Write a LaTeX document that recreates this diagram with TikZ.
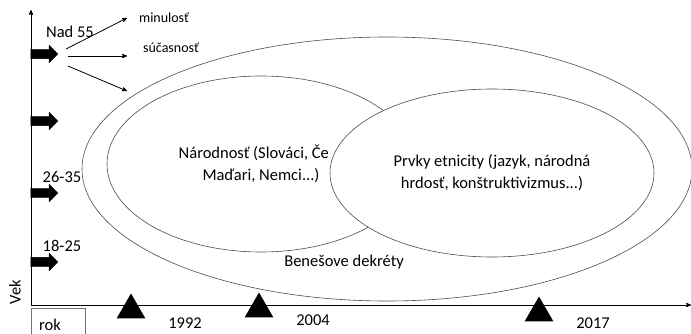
\documentclass[tikz,border=0pt]{standalone}
\usepackage{fontspec}
\setmainfont{Carlito}
\usepackage{tikz}
\usetikzlibrary{arrows,shapes,shapes.arrows,positioning}

\begin{document}
\begin{tikzpicture}[x=1pt,y=-1pt,>=stealth',every node/.style={font=\fontsize{16.5}{22}\selectfont}]
\tikzstyle{vekarrow}=[single arrow, fill=black, draw=black, minimum height=27pt, minimum width=17pt,
  single arrow head extend=4pt, inner xsep=0pt, inner ysep=4.5pt]
\tikzstyle{rokmark}=[regular polygon, regular polygon sides=3, fill=black, minimum size=33pt, inner sep=0pt]
\tikzstyle{kruh}=[ellipse, draw=black!70, line width=0.6pt, inner sep=0pt, align=center]
\tikzstyle{maly}=[font=\fontsize{14}{16}\selectfont]
\useasboundingbox (0,0) rectangle (691,334);

% osi
\coordinate (O) at (31,305);
\coordinate (vhore) at (31,10);
\coordinate (vpravo) at (691,305);
\draw[->,line width=0.8pt] (O) -- (vhore);
\draw[->,line width=0.8pt] (O) -- (vpravo);
\node[rotate=90] (vek) at (15,292) {Vek};
\node[draw=black!55, anchor=north west, minimum width=54pt, minimum height=34pt,
  text width=38pt, inner xsep=8pt, align=left] (rok) at (31,308) {rok};

% elipsy
\node[kruh, minimum width=610pt, minimum height=264pt] (spolok) at (387,169) {};
\node[kruh, minimum width=308pt, minimum height=176pt] (narodnost) at (261,164)
  {N\'arodnos\v{t} (Slov\'aci, \v{C}e\phantom{si,}\\Ma\v{d}ari, Nemci...)};
\node[kruh, fill=white, minimum width=324pt, minimum height=168pt] (prvky) at (492,173)
  {Prvky etnicity (jazyk, n\'arodn\'a\\hrdos\v{t}, kon\v{s}truktivizmus...)};
\node (benes) at (344,262) {Bene\v{s}ove dekr\'ety};

% vek
\node[vekarrow] (a55) at (42,54) {};
\node[vekarrow] (a36) at (42,121) {};
\node[vekarrow] (a26) at (42,193) {};
\node[vekarrow] (a18) at (42,262) {};
\node (nad) at (70,32) {Nad 55};
\node (v26) at (62,177) {26-35};
\node (v18) at (62,246) {18-25};

% minulost / sucasnost
\node[maly] (minulost) at (164,18) {minulos\v{t}};
\node[maly] (sucasnost) at (171,48) {s\'u\v{c}asnos\v{t}};
\coordinate (z1) at (66,49);
\coordinate (z2) at (68,56);
\coordinate (z3) at (68,66);
\coordinate (k1) at (127,18);
\coordinate (k2) at (127,56);
\coordinate (k3) at (127,91);
\draw[->,line width=0.8pt] (z1) -- (k1);
\draw[->,line width=0.8pt] (z2) -- (k2);
\draw[->,line width=0.8pt] (z3) -- (k3);

% roky
\node[rokmark] (t92) at (131,310) {};
\node[rokmark] (t04) at (259,309) {};
\node[rokmark] (t17) at (539,313) {};
\node (r92) at (185,323) {1992};
\node (r04) at (313,320) {2004};
\node (r17) at (593,323) {2017};
\end{tikzpicture}
\end{document}
